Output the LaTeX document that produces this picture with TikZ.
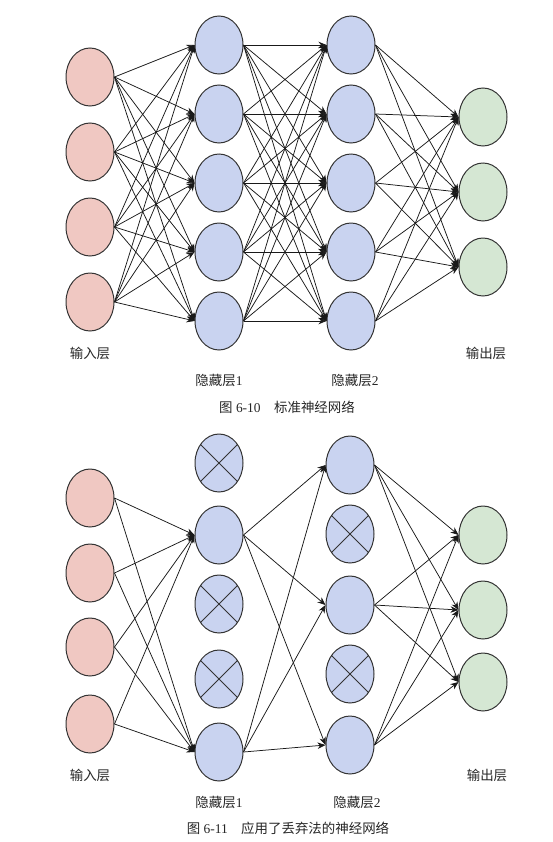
\documentclass[tikz,border=0pt]{standalone}
\usepackage{fontspec}
\setmainfont{Liberation Serif}
\newfontfamily\cjk{Noto Sans CJK SC}
\usetikzlibrary{shapes.geometric, arrows.meta, positioning}
\definecolor{inred}{RGB}{240,200,194}
\definecolor{hidblue}{RGB}{201,211,240}
\definecolor{outgreen}{RGB}{213,231,211}

\begin{document}
\begin{tikzpicture}[x=1bp, y=-1bp, font=\fontsize{13.5}{15}\selectfont,
  neuron/.style={ellipse, draw=black!80, line width=1pt, minimum width=48bp, minimum height=58bp, inner sep=0pt},
  inp/.style={neuron, fill=inred},
  hid/.style={neuron, fill=hidblue},
  outp/.style={neuron, fill=outgreen},
  drop/.style={hid, path picture={
    \draw[black!80, line width=0.9pt] ([shift={(-30,-30)}]path picture bounding box.center) -- ++(60,60);
    \draw[black!80, line width=0.9pt] ([shift={(-30,30)}]path picture bounding box.center) -- ++(60,-60);}},
  conn/.style={-{Stealth[length=8bp, width=6.5bp]}, line width=0.75pt, black!90},
  lbl/.style={text=black!85}]
\useasboundingbox (0,0) rectangle (553,842);

% Standard network
\foreach \i/\y in {1/77, 2/152, 3/227, 4/302}
  \node[inp] (in\i) at (90,\y) {};
\foreach \i/\y in {1/45, 2/114, 3/183, 4/252, 5/321}
  \node[hid] (ha\i) at (219,\y) {};
\foreach \i/\y in {1/45, 2/114, 3/183, 4/252, 5/321}
  \node[hid] (hb\i) at (351,\y) {};
\foreach \i/\y in {1/117, 2/192, 3/267}
  \node[outp] (out\i) at (483,\y) {};

\foreach \a in {1,...,4}
  \foreach \b in {1,...,5}
    \draw[conn] (in\a.east) -- (ha\b.west);
\foreach \a in {1,...,5}
  \foreach \b in {1,...,5}
    \draw[conn] (ha\a.east) -- (hb\b.west);
\foreach \a in {1,...,5}
  \foreach \b in {1,...,3}
    \draw[conn] (hb\a.east) -- (out\b.west);

% Labels
\node[lbl] (lin) at (90,353) {\cjk 输入层};
\node[lbl] (lha) at (219,380) {{\cjk 隐藏层}1};
\node[lbl] (lhb) at (355,380) {{\cjk 隐藏层}2};
\node[lbl] (lout) at (486,353) {\cjk 输出层};
\node[lbl] (cap1) at (287,407) {{\cjk 图} 6-10\quad{\cjk 标准神经网络}};

% Network with dropout
\foreach \i/\y in {1/498, 2/573, 3/647, 4/724}
  \node[inp] (din\i) at (90,\y) {};
\node[drop] (dha1) at (219,463) {};
\node[hid]  (dha2) at (219,535) {};
\node[drop] (dha3) at (219,604) {};
\node[drop] (dha4) at (219,679) {};
\node[hid]  (dha5) at (219,752) {};
\node[hid]  (dhb1) at (350,465) {};
\node[drop] (dhb2) at (350,534) {};
\node[hid]  (dhb3) at (350,605) {};
\node[drop] (dhb4) at (350,674) {};
\node[hid]  (dhb5) at (350,745) {};
\foreach \i/\y in {1/535, 2/610, 3/682}
  \node[outp] (dout\i) at (483,\y) {};

\foreach \a in {1,...,4}
  \foreach \b in {2,5}
    \draw[conn] (din\a.east) -- (dha\b.west);
\foreach \a in {2,5}
  \foreach \b in {1,3,5}
    \draw[conn] (dha\a.east) -- (dhb\b.west);
\foreach \a in {1,3,5}
  \foreach \b in {1,...,3}
    \draw[conn] (dhb\a.east) -- (dout\b.west);

% Labels
\node[lbl] (dlin) at (90,775) {\cjk 输入层};
\node[lbl] (dlha) at (219,802) {{\cjk 隐藏层}1};
\node[lbl] (dlhb) at (357,802) {{\cjk 隐藏层}2};
\node[lbl] (dlout) at (487,775) {\cjk 输出层};
\node[lbl] (cap2) at (288,828) {{\cjk 图} 6-11\quad{\cjk 应用了丢弃法的神经网络}};
\end{tikzpicture}
\end{document}
